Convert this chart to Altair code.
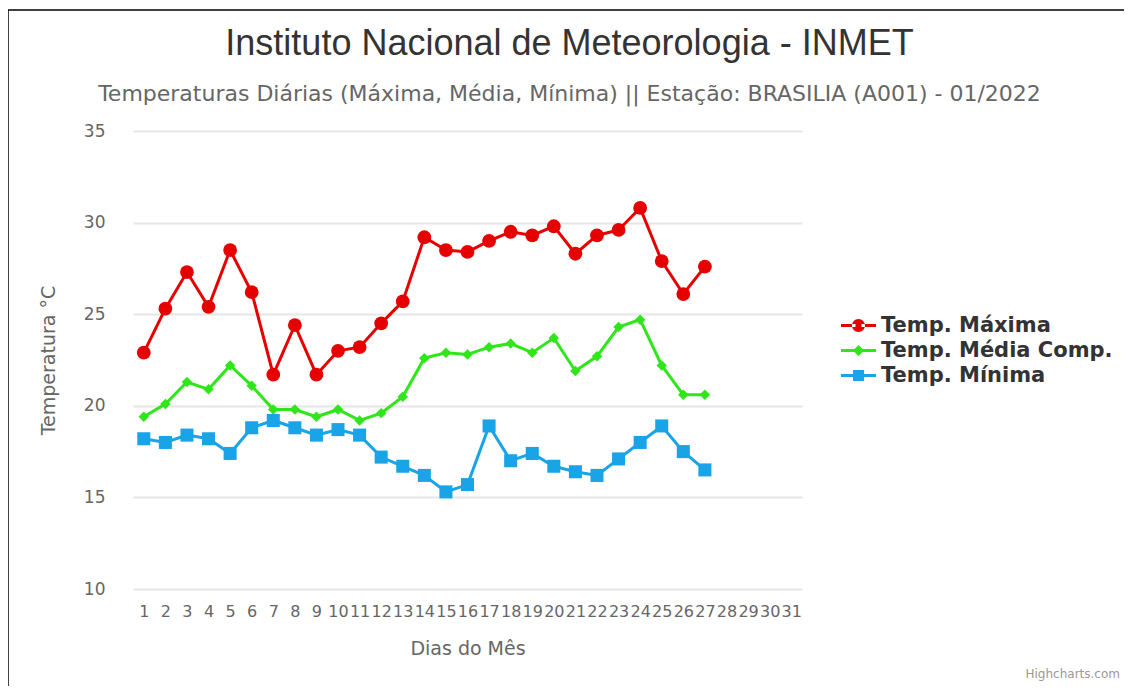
import altair as alt
import pandas as pd

# ---- data ----
dias = [str(d) for d in range(1, 32)]
dias_medidos = [str(d) for d in range(1, 28)]
maxima = [22.9, 25.3, 27.3, 25.4, 28.5, 26.2, 21.7, 24.4, 21.7, 23.0, 23.2, 24.5, 25.7, 29.2,
          28.5, 28.4, 29.0, 29.5, 29.3, 29.8, 28.3, 29.3, 29.6, 30.8, 27.9, 26.1, 27.6]
media = [19.4, 20.1, 21.3, 20.9, 22.2, 21.1, 19.8, 19.8, 19.4, 19.8, 19.2, 19.6, 20.5, 22.6,
         22.9, 22.8, 23.2, 23.4, 22.9, 23.7, 21.9, 22.7, 24.3, 24.7, 22.2, 20.6, 20.6]
minima = [18.2, 18.0, 18.4, 18.2, 17.4, 18.8, 19.2, 18.8, 18.4, 18.7, 18.4, 17.2, 16.7, 16.2,
          15.3, 15.7, 18.9, 17.0, 17.4, 16.7, 16.4, 16.2, 17.1, 18.0, 18.9, 17.5, 16.5]
series = ["Temp. Máxima", "Temp. Média Comp.", "Temp. Mínima"]
colors = ["#e60000", "#2ee619", "#18a4e6"]
shapes = ["circle", "diamond", "square"]
sizes = [190, 110, 170]
y_ticks = [10, 15, 20, 25, 30, 35]

rows = []
for name, vals in zip(series, [maxima, media, minima]):
    for d, v in zip(dias_medidos, vals):
        rows.append({"dia": d, "serie": name, "temp": v})
df = pd.DataFrame(rows)

FONT = "DejaVu Sans"

# legend symbols: a short line with the series marker in the middle
bar = "M-1.75,-0.16H-0.3V0.16H-1.75Z M0.3,-0.16H1.75V0.16H0.3Z "
legend_paths = [
    bar + "M0.65,0A0.65,0.65 0 1,0 -0.65,0A0.65,0.65 0 1,0 0.65,0Z",
    bar + "M0,-0.55L0.55,0L0,0.55L-0.55,0Z",
    bar + "M-0.55,-0.55H0.55V0.55H-0.55Z",
]

legend = alt.Legend(
    title=None, orient="none", legendX=715, legendY=184,
    symbolSize=400, symbolStrokeWidth=0, symbolOpacity=1,
    labelFont=FONT, labelFontSize=21, labelFontWeight="bold", labelLimit=400,
    labelColor="#333333", labelOffset=12, rowPadding=3, padding=0,
)

color = alt.Color("serie:N", scale=alt.Scale(domain=series, range=colors), legend=legend)

x = alt.X("dia:O", scale=alt.Scale(domain=dias, type="point", padding=0.5),
          axis=alt.Axis(title="Dias do Mês", labelAngle=0, labelOverlap=False,
                        labelFont=FONT, labelFontSize=16, labelColor="#666666",
                        labelPadding=14, ticks=False, domain=False, grid=False,
                        titleFont=FONT, titleFontSize=19, titleFontWeight="normal",
                        titleColor="#666666", titlePadding=20))
y = alt.Y("temp:Q", scale=alt.Scale(domain=[10, 35], nice=False, zero=False),
          axis=alt.Axis(title="Temperatura °C", values=y_ticks, labelFont=FONT,
                        labelFontSize=17, labelColor="#666666", labelPadding=28,
                        ticks=False, domain=False, gridColor="#e6e6e6", gridWidth=2,
                        titleFont=FONT, titleFontSize=19, titleFontWeight="normal",
                        titleColor="#666666", titleX=-85, titleY=229, titleAngle=-90,
                        titleAlign="center", titleBaseline="middle"))

base = alt.Chart(df)

legend_layer = base.transform_filter("false").mark_point(
    filled=True, opacity=1, size=400
).encode(
    color=color,
    shape=alt.Shape("serie:N", scale=alt.Scale(domain=series, range=legend_paths), legend=legend),
)

lines = base.mark_line(strokeWidth=3).encode(x=x, y=y, color=color)

point_layers = []
for name, shp, sz in zip(series, shapes, sizes):
    point_layers.append(
        base.transform_filter(alt.datum.serie == name)
        .mark_point(filled=True, opacity=1, shape=shp, size=sz)
        .encode(x=x, y=y, color=color)
    )

frame = alt.Chart(pd.DataFrame({"k": [0]})).mark_rect(
    fill="transparent", stroke="#000000", strokeWidth=1.5
).encode(x=alt.value(-125), x2=alt.value(993), y=alt.value(-121), y2=alt.value(600))

credit = alt.Chart(pd.DataFrame({"t": ["Highcharts.com"]})).mark_text(
    font=FONT, fontSize=12, color="#999999", align="right", baseline="middle"
).encode(text="t:N", x=alt.value(987), y=alt.value(543))

chart = alt.layer(legend_layer, lines, *point_layers, frame, credit).properties(
    width=669, height=458,
    padding={"left": 125, "top": 123, "right": 322, "bottom": 97},
    autosize=alt.AutoSizeParams(type="none"),
    title=alt.TitleParams(
        text="Instituto Nacional de Meteorologia - INMET",
        subtitle="Temperaturas Diárias (Máxima, Média, Mínima) || Estação: BRASILIA (A001) - 01/2022",
        anchor="middle", frame="group", dx=102, offset=-97,
        font="Liberation Sans", fontSize=36, fontWeight="normal", color="#333333",
        subtitleFont=FONT, subtitleFontSize=22, subtitleColor="#666666", subtitlePadding=21,
    ),
).configure(background="white").configure_view(stroke="transparent", strokeWidth=0)

chart.save("out.html", embed_options={"renderer": "svg", "actions": False})
